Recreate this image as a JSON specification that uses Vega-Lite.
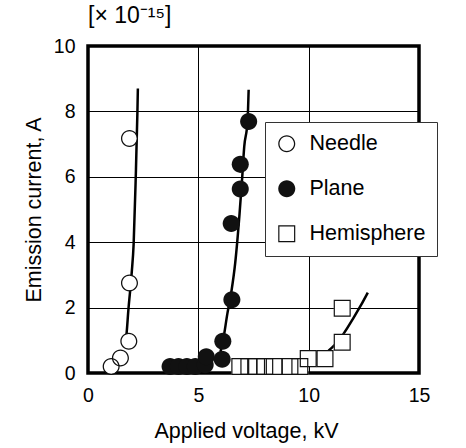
{
  "$schema": "https://vega.github.io/schema/vega-lite/v6.json",
  "autosize": {"type": "none"},
  "width": 331,
  "height": 327,
  "padding": {"left": 88, "top": 46, "right": 47, "bottom": 75},
  "background": "white",
  "title": {"text": "[× 10⁻¹⁵]", "anchor": "start", "frame": "group", "fontSize": 23, "fontWeight": "normal", "font": "Liberation Sans", "color": "black", "offset": 8},
  "datasets": {
    "points": [
      {"series": "Needle", "v": 1.05, "i": 0.2},
      {"series": "Needle", "v": 1.47, "i": 0.46},
      {"series": "Needle", "v": 1.85, "i": 0.97},
      {"series": "Needle", "v": 1.88, "i": 2.75},
      {"series": "Needle", "v": 1.88, "i": 7.17},
      {"series": "Plane", "v": 3.72, "i": 0.2},
      {"series": "Plane", "v": 4.1, "i": 0.2},
      {"series": "Plane", "v": 4.48, "i": 0.2},
      {"series": "Plane", "v": 4.86, "i": 0.2},
      {"series": "Plane", "v": 5.31, "i": 0.25},
      {"series": "Plane", "v": 5.36, "i": 0.5},
      {"series": "Plane", "v": 6.08, "i": 0.42},
      {"series": "Plane", "v": 6.11, "i": 0.97},
      {"series": "Plane", "v": 6.52, "i": 2.24},
      {"series": "Plane", "v": 6.49, "i": 4.57},
      {"series": "Plane", "v": 6.9, "i": 5.63},
      {"series": "Plane", "v": 6.9, "i": 6.38},
      {"series": "Plane", "v": 7.28, "i": 7.69},
      {"series": "Hemisphere", "v": 6.88, "i": 0.2},
      {"series": "Hemisphere", "v": 7.29, "i": 0.2},
      {"series": "Hemisphere", "v": 7.64, "i": 0.2},
      {"series": "Hemisphere", "v": 8.01, "i": 0.2},
      {"series": "Hemisphere", "v": 8.44, "i": 0.2},
      {"series": "Hemisphere", "v": 9.15, "i": 0.2},
      {"series": "Hemisphere", "v": 9.6, "i": 0.2},
      {"series": "Hemisphere", "v": 9.98, "i": 0.44},
      {"series": "Hemisphere", "v": 10.74, "i": 0.44},
      {"series": "Hemisphere", "v": 11.52, "i": 0.94},
      {"series": "Hemisphere", "v": 11.52, "i": 1.98}
    ],
    "curves": [
      {"curve": "Needle", "v": 1.68, "i": 0.8},
      {"curve": "Needle", "v": 1.75, "i": 1.22},
      {"curve": "Needle", "v": 1.83, "i": 1.93},
      {"curve": "Needle", "v": 1.98, "i": 3.06},
      {"curve": "Needle", "v": 2.07, "i": 3.97},
      {"curve": "Needle", "v": 2.16, "i": 5.9},
      {"curve": "Needle", "v": 2.24, "i": 8.0},
      {"curve": "Needle", "v": 2.26, "i": 8.7},
      {"curve": "Plane", "v": 6.0, "i": 0.65},
      {"curve": "Plane", "v": 6.1, "i": 0.92},
      {"curve": "Plane", "v": 6.32, "i": 1.83},
      {"curve": "Plane", "v": 6.5, "i": 2.5},
      {"curve": "Plane", "v": 6.67, "i": 3.36},
      {"curve": "Plane", "v": 6.87, "i": 4.89},
      {"curve": "Plane", "v": 6.98, "i": 5.9},
      {"curve": "Plane", "v": 7.08, "i": 6.92},
      {"curve": "Plane", "v": 7.23, "i": 7.7},
      {"curve": "Plane", "v": 7.28, "i": 8.66},
      {"curve": "Hemisphere", "v": 10.9, "i": 0.68},
      {"curve": "Hemisphere", "v": 11.3, "i": 0.95},
      {"curve": "Hemisphere", "v": 11.6, "i": 1.22},
      {"curve": "Hemisphere", "v": 12.0, "i": 1.65},
      {"curve": "Hemisphere", "v": 12.35, "i": 2.05},
      {"curve": "Hemisphere", "v": 12.68, "i": 2.46}
    ]
  },
  "layer": [
    {
      "data": {"name": "curves"},
      "mark": {"type": "line", "color": "black", "strokeWidth": 2.5, "interpolate": "monotone", "clip": true},
      "encoding": {
        "x": {"field": "v", "type": "quantitative"},
        "y": {"field": "i", "type": "quantitative"},
        "detail": {"field": "curve", "type": "nominal"}
      }
    },
    {
      "data": {"name": "points"},
      "transform": [{"filter": "datum.series == 'Needle'"}],
      "mark": {"type": "point", "shape": "circle", "filled": true, "color": "white", "opacity": 1, "size": 220},
      "encoding": {
        "x": {"field": "v", "type": "quantitative"},
        "y": {"field": "i", "type": "quantitative"}
      }
    },
    {
      "data": {"name": "points"},
      "transform": [{"filter": "datum.series == 'Hemisphere'"}],
      "mark": {"type": "point", "shape": "square", "filled": true, "color": "white", "opacity": 1, "size": 280},
      "encoding": {
        "x": {"field": "v", "type": "quantitative"},
        "y": {"field": "i", "type": "quantitative"}
      }
    },
    {
      "data": {"name": "points"},
      "mark": {"type": "point", "filled": true, "color": "#111", "opacity": 1, "size": 290},
      "encoding": {
        "x": {
          "field": "v", "type": "quantitative",
          "scale": {"domain": [0, 15], "nice": false},
          "axis": {"values": [0, 5, 10, 15], "title": "Applied voltage, kV", "labelFlush": false, "titlePadding": 16, "titleX": 158}
        },
        "y": {
          "field": "i", "type": "quantitative",
          "scale": {"domain": [0, 10], "nice": false},
          "axis": {"values": [0, 1, 2, 3, 4, 5, 6, 7, 8, 9, 10], "labelExpr": "datum.value % 2 == 0 ? datum.label : ''", "title": "Emission current, A", "titlePadding": 8}
        },
        "shape": {"field": "series", "type": "nominal",
          "scale": {"domain": ["Needle", "Plane", "Hemisphere"],
            "range": [
              "M1,0 A1,1 0 1,1 -1,0 A1,1 0 1,1 1,0 Z M0.85,0 A0.85,0.85 0 1,0 -0.85,0 A0.85,0.85 0 1,0 0.85,0 Z",
              "M1,0 A1,1 0 1,1 -1,0 A1,1 0 1,1 1,0 Z",
              "M-1,-1 L1,-1 L1,1 L-1,1 Z M-0.86,-0.86 L-0.86,0.86 L0.86,0.86 L0.86,-0.86 Z"
            ]},
          "legend": {"title": null}}
      }
    }
  ],
  "config": {
    "font": "Liberation Sans",
    "view": {"stroke": "black", "strokeWidth": 3.5},
    "axis": {
      "grid": true, "gridColor": "black", "gridOpacity": 1, "gridWidth": 1,
      "ticks": false, "domain": false,
      "labelFontSize": 19.5, "labelColor": "black", "labelPadding": 13,
      "titleFontSize": 21.5, "titleFontWeight": "normal", "titleColor": "black"
    },
    "legend": {
      "orient": "none", "legendX": 177, "legendY": 76,
      "fillColor": "white", "strokeColor": "#333", "strokeWidth": 1,
      "padding": 11, "labelFontSize": 21.5, "labelColor": "black", "labelOffset": 12,
      "rowPadding": 22, "symbolSize": 290, "symbolFillColor": "#111", "symbolStrokeWidth": 0
    }
  }
}
